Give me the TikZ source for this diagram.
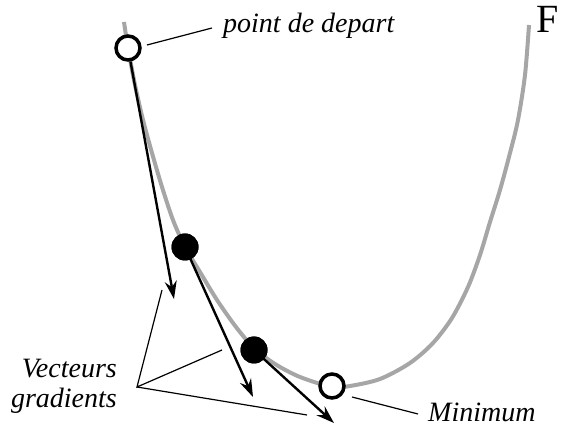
\documentclass[tikz,border=0pt]{standalone}
\usepackage{fontspec}
\setmainfont{Liberation Serif}
\usetikzlibrary{arrows.meta}
\begin{document}
\begin{tikzpicture}[x=1pt,y=-1pt,
  curve/.style={draw=black!35, line width=4pt},
  opencirc/.style={circle, draw=black, fill=white, line width=3.5pt, minimum size=24pt, inner sep=0pt},
  fullcirc/.style={circle, fill=black, minimum size=27pt, inner sep=0pt},
  grad/.style={line width=2.4pt, -{Stealth[length=18pt,width=12pt,inset=6pt]}},
  leader/.style={line width=1.2pt},
  lbl/.style={font=\itshape\fontsize{28}{32}\selectfont, inner sep=0pt}]
\useasboundingbox (0,0) rectangle (565,427);
\draw[curve] plot[smooth, tension=0.5] coordinates {(124,22) (128,48) (135,85) (143,120) (152,153) (162,187) (173,220) (185,247) (200,272) (217,300) (236,327) (254,348) (275,364) (300,377) (332,387) (350,386) (380,379) (410,363) (433,343) (452,318) (468,287) (480,255) (490,222) (500,190) (510,153) (518,120) (525,75) (529,25)};
\coordinate (t1) at (174,299);
\coordinate (t2) at (253,397);
\coordinate (t3) at (334,423);
\node[opencirc] (start) at (128,48) {};
\node[fullcirc] (p1) at (185,247) {};
\node[fullcirc] (p2) at (254,350) {};
\node[opencirc] (min) at (332,386) {};
\draw[grad] (start) -- (t1);
\draw[grad] (p1.center) -- (t2);
\draw[grad] (p2.center) -- (t3);
\node[fullcirc] at (185,247) {};
\node[fullcirc] at (254,350) {};
\node[lbl, anchor=base west] (ldep) at (223,33) {point de depart};
\node[font=\fontsize{40}{44}\selectfont, inner sep=0pt, anchor=base west] (F) at (536,33) {F};
\node[lbl, anchor=base east] (vec1) at (117,378) {Vecteurs};
\node[lbl, anchor=base east] (vec2) at (117,408) {gradients};
\node[lbl, anchor=base west] (lmin) at (428,421) {Minimum};
\coordinate (dep1) at (147,45);
\coordinate (dep2) at (212,28);
\draw[leader] (dep1) -- (dep2);
\coordinate (m1) at (352,397);
\coordinate (m2) at (418,414);
\draw[leader] (m1) -- (m2);
\coordinate (v0) at (137,387);
\coordinate (va) at (162,290);
\coordinate (vb) at (222,350);
\coordinate (vc) at (307,415);
\draw[leader] (va) -- (v0) -- (vb);
\draw[leader] (v0) -- (vc);
\end{tikzpicture}
\end{document}
